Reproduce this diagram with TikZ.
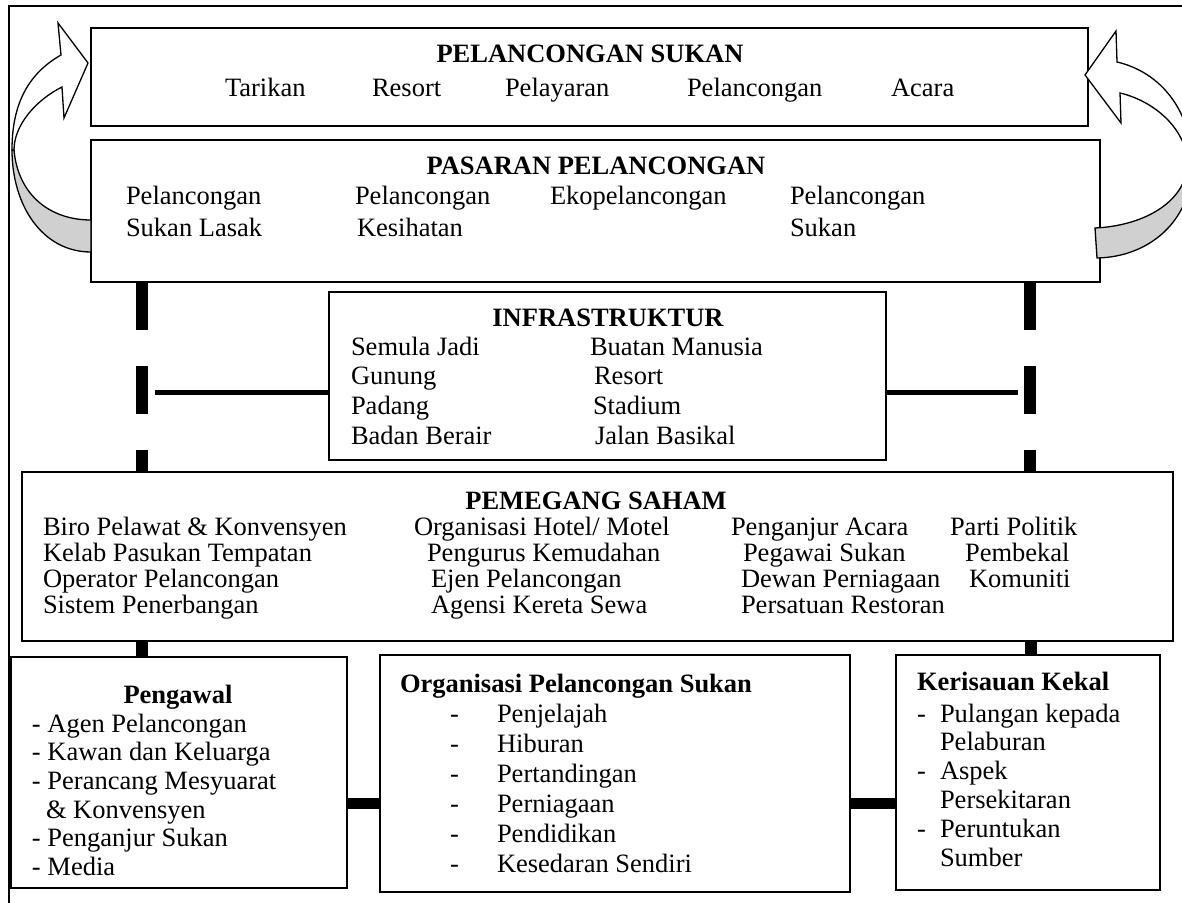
\documentclass[tikz,border=0pt]{standalone}
\usepackage{fontspec}
\setmainfont{Liberation Serif}
\definecolor{band}{RGB}{208,208,208}
\newcommand\mybox[5]{\node[boxst, minimum width=#4*0.5pt, minimum height=#5*0.5pt, anchor=north west] (#1) at (#2,#3) {};}
\newcommand\tx[4]{\node[txt] (#1) at (#2,#3) {#4};}
\newcommand\tb[4]{\node[ttl] (#1) at (#2,#3) {#4};}
\begin{document}
\begin{tikzpicture}[x=0.5pt,y=-0.5pt,
  boxst/.style={draw, line width=0.65pt, fill=white, inner sep=0pt, outer sep=0pt},
  txt/.style={inner sep=0pt, outer sep=0pt, anchor=base west, font=\fontsize{13.25pt}{15pt}\selectfont},
  ttl/.style={txt, font=\fontsize{13.25pt}{15pt}\selectfont\bfseries},
  vconn/.style={line width=6pt, line cap=butt},
  dconn/.style={vconn, dash pattern=on 24pt off 18pt},
  hconn/.style={line width=2.5pt, line cap=butt},
  bconn/.style={line width=5.5pt, line cap=butt},
  arrowst/.style={draw, line width=0.65pt, line join=miter}]
\useasboundingbox (0,0) rectangle (1182,903);
\clip (0,0) rectangle (1182,903);
% outer frame
\coordinate (fbl) at (9,903);
\coordinate (ftl) at (9,6);
\coordinate (ftr) at (1182,6);
\draw[line width=1pt] (fbl) -- (ftl) -- (ftr);
% boxes
\mybox{box1}{91}{28}{997}{98}
\mybox{box2}{91}{140}{1009}{142}
\mybox{infra}{329}{292}{557}{168}
\mybox{pem}{22}{472}{1151}{169}
\mybox{peng}{11}{657}{336}{231}
\mybox{org}{380}{655}{470}{237}
\mybox{keris}{896}{655}{264}{235}
% connectors
\coordinate (lx) at (142,0);
\coordinate (rx) at (1030,0);
\coordinate (rx2) at (1031,0);
\draw[dconn] (box2.south -| lx) -- (pem.north -| lx);
\draw[dconn] (box2.south -| rx) -- (pem.north -| rx);
\coordinate (il) at (155,392);
\coordinate (ir) at (1018,392);
\draw[hconn] (il) -- (infra.west |- il);
\draw[hconn] (infra.east |- ir) -- (ir);
\draw[vconn] (pem.south -| lx) -- (peng.north -| lx);
\draw[vconn] (pem.south -| rx2) -- (keris.north -| rx2);
\coordinate (hy) at (0,803);
\draw[bconn] (peng.east |- hy) -- (org.west |- hy);
\draw[bconn] (org.east |- hy) -- (keris.west |- hy);
% left curved arrow
\draw[arrowst, fill=band] (14,150) .. controls (18,195) and (50,220) .. (91,220) -- (91,252) .. controls (42,252) and (12,205) .. (12,150) -- cycle;
\draw[arrowst, fill=white] (12,150) .. controls (12,110) and (24,76) .. (61,55) -- (58,23) -- (88,63) -- (64,118) -- (62,87) .. controls (36,100) and (14,125) .. (14,150) -- cycle;
% right curved arrow
\draw[arrowst, fill=band] (1188,165) .. controls (1184,205) and (1140,226) .. (1095,228) -- (1097,258) .. controls (1150,257) and (1192,220) .. (1192,165) -- cycle;
\draw[arrowst, fill=white] (1192,165) .. controls (1192,110) and (1160,72) .. (1117,62) -- (1116,31) -- (1085,75) -- (1121,123) -- (1120,93) .. controls (1150,100) and (1186,125) .. (1188,165) -- cycle;
% box1 text
\node[ttl, anchor=base] (t1) at (590,63) {PELANCONGAN SUKAN};
\tx{a1}{225}{97}{Tarikan}
\tx{a2}{372}{97}{Resort}
\tx{a3}{505}{97}{Pelayaran}
\tx{a4}{687}{97}{Pelancongan}
\tx{a5}{891}{97}{Acara}
% box2 text
\node[ttl, anchor=base] (t2) at (596,175) {PASARAN PELANCONGAN};
\tx{b1}{126}{205}{Pelancongan}
\tx{b2}{126}{237}{Sukan Lasak}
\tx{b3}{355}{205}{Pelancongan}
\tx{b4}{357}{237}{Kesihatan}
\tx{b5}{550}{205}{Ekopelancongan}
\tx{b6}{790}{205}{Pelancongan}
\tx{b7}{790}{237}{Sukan}
% infra text
\node[ttl, anchor=base] (t3) at (608,327) {INFRASTRUKTUR};
\tx{c1}{351}{356}{Semula Jadi}
\tx{c2}{351}{385}{Gunung}
\tx{c3}{351}{414}{Padang}
\tx{c4}{351}{444}{Badan Berair}
\tx{c5}{590}{356}{Buatan Manusia}
\tx{c6}{594}{385}{Resort}
\tx{c7}{593}{414}{Stadium}
\tx{c8}{595}{444}{Jalan Basikal}
% pemegang text
\node[ttl, anchor=base] (t4) at (596,509) {PEMEGANG SAHAM};
\tx{e1}{43}{535}{Biro Pelawat \& Konvensyen}
\tx{e2}{43}{561}{Kelab Pasukan Tempatan}
\tx{e3}{43}{587}{Operator Pelancongan}
\tx{e4}{43}{613}{Sistem Penerbangan}
\tx{e5}{414}{535}{Organisasi Hotel/ Motel}
\tx{e6}{427}{561}{Pengurus Kemudahan}
\tx{e7}{431}{587}{Ejen Pelancongan}
\tx{e8}{431}{613}{Agensi Kereta Sewa}
\tx{e9}{731}{535}{Penganjur Acara}
\tx{e10}{743}{561}{Pegawai Sukan}
\tx{e11}{741}{587}{Dewan Perniagaan}
\tx{e12}{741}{613}{Persatuan Restoran}
\tx{e13}{950}{535}{Parti Politik}
\tx{e14}{965}{561}{Pembekal}
\tx{e15}{969}{587}{Komuniti}
% pengawal text
\node[ttl, anchor=base] (t5) at (178,703) {Pengawal};
\tx{f1}{32}{732}{- Agen Pelancongan}
\tx{f2}{32}{760}{- Kawan dan Keluarga}
\tx{f3}{32}{789}{- Perancang Mesyuarat}
\tx{f4}{46}{818}{\& Konvensyen}
\tx{f5}{32}{846}{- Penganjur Sukan}
\tx{f6}{32}{875}{- Media}
% organisasi text
\tb{t6}{400}{692}{Organisasi Pelancongan Sukan}
\tx{g1}{450}{722}{-}
\tx{g2}{450}{752}{-}
\tx{g3}{450}{782}{-}
\tx{g4}{450}{812}{-}
\tx{g5}{450}{842}{-}
\tx{g6}{450}{872}{-}
\tx{h1}{497}{722}{Penjelajah}
\tx{h2}{497}{752}{Hiburan}
\tx{h3}{497}{782}{Pertandingan}
\tx{h4}{497}{812}{Perniagaan}
\tx{h5}{497}{842}{Pendidikan}
\tx{h6}{497}{872}{Kesedaran Sendiri}
% kerisauan text
\tb{t7}{917}{690}{Kerisauan Kekal}
\tx{k1}{917}{722}{-}
\tx{k2}{917}{779}{-}
\tx{k3}{917}{837}{-}
\tx{m1}{940}{722}{Pulangan kepada}
\tx{m2}{940}{750}{Pelaburan}
\tx{m3}{940}{779}{Aspek}
\tx{m4}{940}{808}{Persekitaran}
\tx{m5}{940}{837}{Peruntukan}
\tx{m6}{940}{866}{Sumber}
\end{tikzpicture}
\end{document}
